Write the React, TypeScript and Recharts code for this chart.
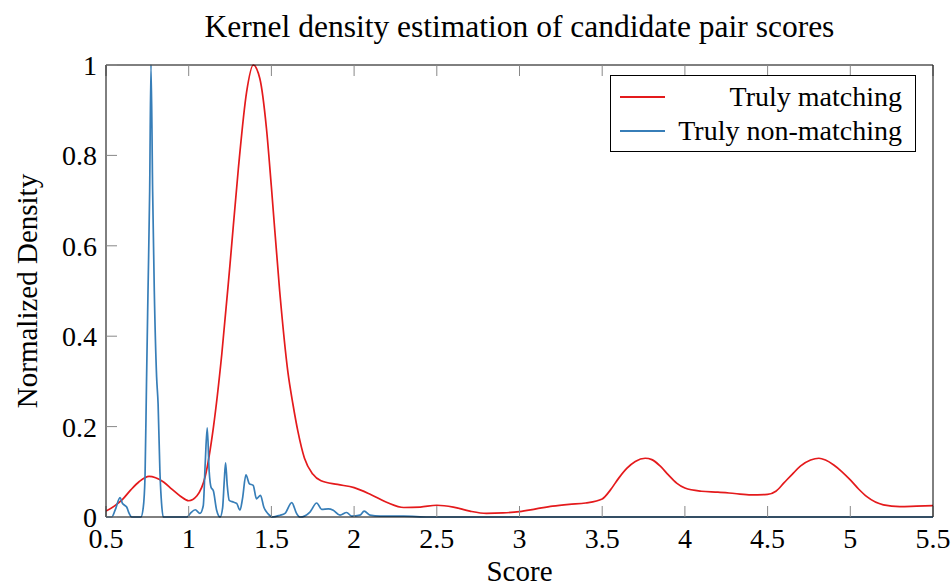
import React from 'react'
import { Legend, Line, LineChart, XAxis, YAxis } from 'recharts'

const title = 'Kernel density estimation of candidate pair scores'
const xTicks = [0.5, 1, 1.5, 2, 2.5, 3, 3.5, 4, 4.5, 5, 5.5]
const yTicks = [0, 0.2, 0.4, 0.6, 0.8, 1]

// [score, normalized density]
const matching: [number, number][] = [
  [0.5, 0.013], [0.55, 0.024], [0.6, 0.039], [0.65, 0.06], [0.7, 0.078], [0.76, 0.09],
  [0.8, 0.087], [0.85, 0.077], [0.9, 0.061], [0.95, 0.046], [1.0, 0.036], [1.05, 0.047],
  [1.1, 0.09], [1.15, 0.2], [1.2, 0.36], [1.25, 0.56], [1.3, 0.77], [1.35, 0.94],
  [1.39, 1.0], [1.43, 0.97], [1.47, 0.86], [1.5, 0.73], [1.55, 0.5], [1.6, 0.32],
  [1.63, 0.25], [1.66, 0.19], [1.7, 0.13], [1.75, 0.095], [1.8, 0.08], [1.9, 0.072],
  [2.0, 0.065], [2.1, 0.05], [2.2, 0.032], [2.3, 0.021], [2.4, 0.022], [2.5, 0.026],
  [2.6, 0.022], [2.7, 0.013], [2.8, 0.008], [2.9, 0.009], [3.0, 0.012], [3.1, 0.018],
  [3.2, 0.024], [3.3, 0.028], [3.4, 0.031], [3.5, 0.04], [3.55, 0.06], [3.6, 0.086],
  [3.65, 0.108], [3.7, 0.123], [3.76, 0.13], [3.8, 0.127], [3.85, 0.113], [3.9, 0.093],
  [3.95, 0.075], [4.0, 0.064], [4.1, 0.057], [4.2, 0.055], [4.3, 0.052], [4.4, 0.049],
  [4.5, 0.05], [4.55, 0.057], [4.6, 0.076], [4.65, 0.095], [4.7, 0.113], [4.76, 0.126],
  [4.81, 0.13], [4.85, 0.126], [4.9, 0.115], [4.95, 0.1], [5.0, 0.082], [5.05, 0.062],
  [5.1, 0.045], [5.2, 0.027], [5.3, 0.023], [5.4, 0.024], [5.5, 0.025],
]

const nonMatching: [number, number][] = [
  [0.5, 0], [0.535, 0], [0.555, 0.015], [0.585, 0.043], [0.6, 0.03], [0.612, 0.026],
  [0.625, 0.022], [0.64, 0.008], [0.655, 0], [0.711, 0], [0.725, 0.02], [0.736, 0.09],
  [0.745, 0.3], [0.754, 0.5], [0.764, 0.72], [0.772, 1.0], [0.782, 0.72], [0.792, 0.5],
  [0.806, 0.31], [0.815, 0.25], [0.826, 0.1], [0.836, 0.03], [0.846, 0], [0.99, 0],
  [1.01, 0.008], [1.04, 0.016], [1.068, 0.008], [1.088, 0.025], [1.1, 0.12], [1.112, 0.197],
  [1.124, 0.1], [1.135, 0.066], [1.149, 0.058], [1.169, 0.015], [1.19, 0], [1.205, 0.02],
  [1.215, 0.08], [1.223, 0.12], [1.233, 0.07], [1.245, 0.037], [1.27, 0.033], [1.29, 0.03],
  [1.31, 0.015], [1.325, 0.04], [1.346, 0.093], [1.366, 0.074], [1.39, 0.07], [1.41, 0.04],
  [1.434, 0.048], [1.454, 0.022], [1.48, 0.007], [1.507, 0], [1.552, 0.004], [1.582, 0.008],
  [1.623, 0.032], [1.652, 0.008], [1.673, 0], [1.733, 0.011], [1.774, 0.031], [1.804, 0.017],
  [1.844, 0.018], [1.874, 0.015], [1.915, 0.004], [1.955, 0.01], [1.985, 0.002], [2.035, 0.004],
  [2.061, 0.013], [2.096, 0.004], [2.157, 0.002], [2.3, 0.002], [2.45, 0], [5.5, 0],
]

const toRows = (pts: [number, number][]) => pts.map(([x, y]) => ({ x, y }))
const matchingData = toRows(matching)
const nonMatchingData = toRows(nonMatching)

const RED = '#e41a1c'
const BLUE = '#377eb8'
const FONT = 'Liberation Serif'
const tickText = { fontSize: 28, fill: '#000', fontFamily: FONT }
const tickLine = { stroke: '#888' }
const axisLine = { stroke: '#000' }

function LegendBox({ payload }: any) {
  return (
    <div
      style={{
        width: 306,
        height: 77,
        boxSizing: 'border-box',
        border: '1px solid #000',
        background: '#fff',
        paddingTop: 4,
        fontFamily: FONT,
        fontSize: 28,
      }}
    >
      {(payload || []).map((p: any) => (
        <div key={p.value} style={{ display: 'flex', alignItems: 'center', height: 34, lineHeight: '34px' }}>
          <span style={{ width: 45, height: 2, background: p.color, marginLeft: 9 }} />
          <span style={{ flex: 1, textAlign: 'right', paddingRight: 13, whiteSpace: 'nowrap' }}>{p.value}</span>
        </div>
      ))}
    </div>
  )
}

export default function App() {
  return (
    <div style={{ position: 'absolute', left: 0, top: 0, background: '#fff' }}>
      <LineChart width={952} height={588} margin={{ top: 64, right: 18, bottom: 41, left: 46 }}>
        <XAxis
          dataKey="x"
          type="number"
          domain={[0.5, 5.5]}
          ticks={xTicks}
          allowDataOverflow
          height={30}
          tickSize={-11}
          tickMargin={22}
          tick={tickText}
          tickLine={tickLine}
          axisLine={axisLine}
          label={{ value: 'Score', position: 'bottom', offset: 13, style: { fontSize: 29, fill: '#000', fontFamily: FONT } }}
        />
        <XAxis
          xAxisId="top"
          orientation="top"
          dataKey="x"
          type="number"
          domain={[0.5, 5.5]}
          ticks={xTicks}
          allowDataOverflow
          height={1}
          tickSize={-11}
          tickFormatter={() => ''}
          tickLine={tickLine}
          axisLine={axisLine}
          label={{ value: title, position: 'top', offset: 27, style: { fontSize: 31.5, fill: '#000', fontFamily: FONT } }}
        />
        <YAxis
          type="number"
          domain={[0, 1]}
          ticks={yTicks}
          width={60}
          tickSize={-11}
          tickMargin={20}
          tick={tickText}
          tickLine={tickLine}
          axisLine={axisLine}
          label={({ viewBox }: any) => {
            const x = viewBox.x - 19
            const y = viewBox.y + viewBox.height / 2
            return (
              <text
                x={x}
                y={y}
                transform={`rotate(-90 ${x} ${y})`}
                textAnchor="middle"
                dominantBaseline="central"
                style={{ fontSize: 29, fill: '#000', fontFamily: FONT }}
              >
                Normalized Density
              </text>
            )
          }}
        />
        <YAxis
          yAxisId="right"
          orientation="right"
          type="number"
          domain={[0, 1]}
          ticks={yTicks}
          width={1}
          tickSize={-11}
          tickFormatter={() => ''}
          tickLine={tickLine}
          axisLine={axisLine}
        />
        <Legend
          layout="horizontal"
          verticalAlign="middle"
          align="center"
          wrapperStyle={{ left: 610, top: 75, width: 306 }}
          content={<LegendBox />}
        />
        <Line
          data={matchingData}
          dataKey="y"
          name="Truly matching"
          type="monotone"
          stroke={RED}
          strokeWidth={1.7}
          dot={false}
          isAnimationActive={false}
        />
        <Line
          data={nonMatchingData}
          dataKey="y"
          name="Truly non-matching"
          type="monotone"
          stroke={BLUE}
          strokeWidth={1.7}
          dot={false}
          isAnimationActive={false}
        />
      </LineChart>
    </div>
  )
}
